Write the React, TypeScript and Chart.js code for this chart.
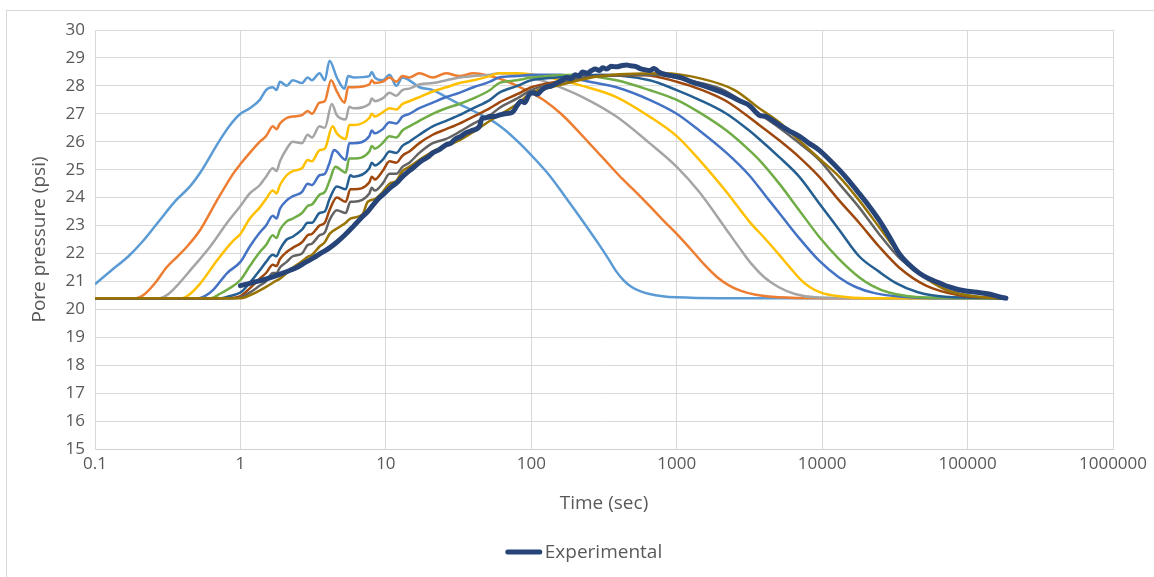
import React, { useEffect, useRef } from "react";
import { Chart, registerables } from "chart.js";

Chart.register(...registerables);

// Axis ticks
const timeTicks = [0.1, 1, 10, 100, 1000, 10000, 100000, 1000000];
const pressureMin = 15;
const pressureMax = 30;

// Simulated curves: time (sec) and pore pressure (psi)
const simTime1 = [0.1, 0.13, 0.17, 0.21, 0.27, 0.36, 0.45, 0.53, 0.72, 0.85, 1, 1.16, 1.36, 1.5, 1.67, 1.77, 1.87, 2.08, 2.29, 2.65, 2.9, 3.1, 3.5, 3.8, 4.1, 4.6, 5.2, 5.5, 6, 7.7, 8, 8.4, 9.5, 10.6, 11.8, 13, 14.5, 17, 21, 26, 32, 40, 52, 65, 83, 105, 133, 170, 223, 294, 340, 385, 430, 490, 560, 650, 800, 1000, 2000, 10000, 180000];
const simPres1 = [20.9, 21.4, 21.9, 22.4, 23.1, 23.9, 24.4, 24.9, 26.05, 26.6, 27.0, 27.2, 27.5, 27.85, 27.95, 27.85, 28.15, 28.0, 28.2, 28.1, 28.3, 28.2, 28.45, 28.2, 28.9, 28.3, 27.9, 28.35, 28.3, 28.35, 28.5, 28.3, 28.2, 28.4, 28.0, 28.3, 28.2, 27.95, 27.85, 27.6, 27.35, 27.1, 26.8, 26.45, 25.95, 25.4, 24.8, 24.05, 23.2, 22.3, 21.8, 21.35, 21.05, 20.8, 20.65, 20.55, 20.47, 20.43, 20.4, 20.4, 20.4];

const simTime2 = [0.1, 0.19, 0.22, 0.26, 0.31, 0.37, 0.43, 0.53, 0.69, 0.89, 1, 1.16, 1.36, 1.5, 1.67, 1.77, 1.87, 2.08, 2.29, 2.65, 2.9, 3.1, 3.5, 3.8, 4.2, 4.6, 5.2, 5.5, 6, 7.7, 8, 8.4, 9.5, 10.6, 11.8, 13, 14.5, 17, 21, 26, 32, 40, 52, 65, 80, 100, 125, 160, 200, 250, 320, 400, 500, 650, 820, 1000, 1250, 1550, 1900, 2300, 2800, 3500, 5000, 10000, 180000];
const simPres2 = [20.4, 20.4, 20.55, 20.95, 21.5, 21.9, 22.25, 22.85, 23.9, 24.85, 25.2, 25.6, 26.0, 26.2, 26.55, 26.45, 26.65, 26.85, 26.9, 26.95, 27.1, 27.0, 27.4, 27.45, 28.2, 27.8, 27.4, 27.95, 27.95, 28.05, 28.2, 28.1, 28.15, 28.3, 28.15, 28.35, 28.3, 28.45, 28.3, 28.45, 28.35, 28.45, 28.35, 28.2, 28.0, 27.75, 27.45, 27.0, 26.5, 25.95, 25.35, 24.8, 24.3, 23.7, 23.15, 22.7, 22.15, 21.6, 21.15, 20.85, 20.65, 20.52, 20.43, 20.4, 20.4];

const simTime3 = [0.1, 0.28, 0.32, 0.36, 0.47, 0.62, 0.81, 1, 1.16, 1.36, 1.5, 1.67, 1.77, 1.87, 2.08, 2.29, 2.65, 2.9, 3.1, 3.5, 3.8, 4.25, 4.6, 5.3, 5.6, 6, 7.7, 8, 8.4, 9.5, 10.6, 11.8, 13, 14.5, 17, 21, 26, 32, 40, 52, 60, 80, 100, 133, 225, 385, 650, 1000, 1430, 2200, 2700, 3300, 4000, 5000, 6500, 9000, 20000, 180000];
const simPres3 = [20.4, 20.4, 20.55, 20.8, 21.5, 22.25, 23.1, 23.7, 24.15, 24.45, 24.75, 25.05, 24.95, 25.3, 25.75, 26.0, 25.95, 26.25, 26.15, 26.55, 26.5, 27.35, 26.95, 26.8, 27.25, 27.2, 27.35, 27.55, 27.45, 27.55, 27.75, 27.65, 27.85, 27.9, 28.05, 28.1, 28.2, 28.3, 28.35, 28.4, 28.45, 28.42, 28.3, 28.1, 27.6, 26.9, 25.95, 25.1, 24.2, 22.85, 22.2, 21.6, 21.15, 20.8, 20.55, 20.43, 20.4, 20.4];

const simTime4 = [0.1, 0.4, 0.45, 0.53, 0.69, 0.89, 1, 1.16, 1.36, 1.5, 1.67, 1.77, 1.87, 2.08, 2.29, 2.65, 2.9, 3.1, 3.5, 3.8, 4.3, 4.6, 5.3, 5.6, 6, 7.7, 8, 8.4, 9.5, 10.6, 11.8, 13, 14.5, 17, 21, 26, 32, 40, 52, 60, 80, 133, 225, 385, 650, 1000, 1430, 2200, 3150, 4100, 5070, 6000, 7000, 8200, 9800, 13000, 20000, 180000];
const simPres4 = [20.4, 20.4, 20.55, 20.93, 21.75, 22.45, 22.7, 23.25, 23.65, 23.95, 24.25, 24.15, 24.45, 24.8, 24.95, 25.05, 25.35, 25.3, 25.7, 25.75, 26.55, 26.3, 26.1, 26.6, 26.6, 26.85, 27.0, 26.9, 27.05, 27.2, 27.15, 27.35, 27.45, 27.6, 27.8, 27.95, 28.1, 28.2, 28.35, 28.45, 28.45, 28.3, 28.0, 27.6, 26.9, 26.2, 25.35, 24.2, 23.15, 22.5, 21.95, 21.5, 21.1, 20.8, 20.6, 20.47, 20.4, 20.4];

const simTime5 = [0.1, 0.52, 0.58, 0.65, 0.81, 1, 1.16, 1.36, 1.5, 1.67, 1.77, 1.87, 2.08, 2.29, 2.65, 2.9, 3.1, 3.5, 3.8, 4.1, 4.4, 5.3, 5.6, 6, 7.7, 8, 8.4, 9.5, 10.6, 11.8, 13, 14.5, 17, 21, 26, 32, 40, 52, 60, 80, 100, 160, 225, 385, 650, 1000, 1430, 2200, 3150, 4100, 5070, 6950, 9500, 13000, 17000, 23000, 35000, 60000, 180000];
const simPres5 = [20.4, 20.4, 20.5, 20.7, 21.3, 21.7, 22.25, 22.75, 23.0, 23.35, 23.25, 23.6, 23.9, 24.05, 24.2, 24.5, 24.45, 24.8, 24.85, 25.25, 25.7, 25.35, 25.95, 25.95, 26.2, 26.4, 26.3, 26.45, 26.7, 26.65, 26.9, 27.0, 27.2, 27.4, 27.6, 27.75, 27.95, 28.15, 28.3, 28.35, 28.4, 28.4, 28.2, 27.95, 27.5, 27.0, 26.4, 25.6, 24.8, 24.05, 23.45, 22.55, 21.75, 21.15, 20.8, 20.58, 20.45, 20.4, 20.4];

const simTime6 = [0.1, 0.63, 0.72, 0.81, 1, 1.16, 1.36, 1.5, 1.67, 1.77, 1.87, 2.08, 2.29, 2.65, 2.9, 3.1, 3.5, 3.8, 4.1, 4.5, 5.3, 5.6, 6, 7.7, 8, 8.4, 9.5, 10.6, 11.8, 13, 14.5, 17, 21, 26, 32, 40, 52, 60, 80, 100, 200, 385, 650, 1000, 1430, 2200, 3150, 3690, 5070, 6950, 9530, 13080, 17950, 22000, 28800, 51800, 180000];
const simPres6 = [20.4, 20.4, 20.55, 20.7, 21.05, 21.55, 22.05, 22.3, 22.65, 22.55, 22.85, 23.15, 23.25, 23.45, 23.7, 23.75, 24.1, 24.2, 24.6, 25.1, 24.9, 25.4, 25.4, 25.65, 25.85, 25.75, 25.95, 26.2, 26.15, 26.4, 26.55, 26.75, 27.0, 27.2, 27.35, 27.55, 27.85, 28.1, 28.2, 28.3, 28.4, 28.2, 27.85, 27.5, 27.05, 26.4, 25.7, 25.35, 24.5, 23.55, 22.6, 21.8, 21.15, 20.85, 20.6, 20.42, 20.4];

const simTime7 = [0.1, 0.74, 0.85, 1, 1.16, 1.36, 1.5, 1.67, 1.77, 1.87, 2.08, 2.29, 2.65, 2.9, 3.1, 3.5, 3.8, 4.1, 4.6, 5.3, 5.7, 6, 7.7, 8, 8.4, 9.5, 10.6, 11.8, 13, 14.5, 17, 21, 26, 32, 40, 52, 60, 80, 100, 150, 300, 650, 1000, 1430, 2200, 3150, 3690, 5070, 6950, 9530, 13080, 17950, 24600, 32000, 45000, 70000, 180000];
const simPres7 = [20.4, 20.4, 20.48, 20.6, 20.95, 21.4, 21.7, 21.95, 21.9, 22.15, 22.5, 22.6, 22.85, 23.1, 23.1, 23.45, 23.5, 23.95, 24.4, 24.3, 24.8, 24.75, 25.05, 25.25, 25.15, 25.35, 25.65, 25.6, 25.85, 26.0, 26.25, 26.55, 26.75, 26.95, 27.2, 27.5, 27.75, 28.0, 28.2, 28.3, 28.4, 28.2, 27.85, 27.5, 27.0, 26.4, 26.1, 25.45, 24.75, 23.8, 22.85, 21.9, 21.35, 20.95, 20.62, 20.45, 20.4];

const simTime8 = [0.1, 0.84, 1, 1.16, 1.36, 1.5, 1.67, 1.77, 1.87, 2.08, 2.29, 2.65, 2.9, 3.1, 3.5, 3.8, 4.1, 4.6, 5.3, 5.7, 6, 7.7, 8, 8.4, 9.5, 10.6, 11.8, 13, 14.5, 17, 21, 26, 32, 40, 52, 60, 80, 100, 150, 300, 600, 1000, 1500, 2200, 3690, 5070, 6950, 9530, 13080, 17950, 24600, 33800, 51800, 87300, 120000, 180000];
const simPres8 = [20.4, 20.4, 20.47, 20.75, 21.1, 21.3, 21.6, 21.55, 21.8, 22.05, 22.2, 22.4, 22.65, 22.7, 23.0, 23.1, 23.55, 24.0, 23.85, 24.3, 24.3, 24.55, 24.75, 24.65, 24.95, 25.3, 25.25, 25.5, 25.65, 25.95, 26.25, 26.45, 26.65, 26.9, 27.2, 27.4, 27.7, 27.95, 28.15, 28.35, 28.38, 28.15, 27.85, 27.45, 26.6, 26.05, 25.45, 24.75, 23.9, 23.1, 22.25, 21.5, 20.85, 20.5, 20.43, 20.4];

const simTime9 = [0.1, 0.9, 1, 1.16, 1.36, 1.5, 1.67, 1.77, 1.87, 2.08, 2.29, 2.65, 2.9, 3.1, 3.5, 3.8, 4.1, 4.6, 5.3, 5.7, 6, 7.7, 8, 8.4, 9.5, 10.6, 11.8, 13, 14.5, 17, 21, 26, 32, 40, 52, 60, 80, 100, 150, 300, 700, 1200, 2000, 3000, 3690, 5070, 6950, 9530, 13080, 17950, 24600, 33800, 46400, 71100, 114300, 180000];
const simPres9 = [20.4, 20.4, 20.43, 20.6, 20.85, 21.0, 21.3, 21.3, 21.5, 21.7, 21.9, 22.0, 22.3, 22.35, 22.65, 22.75, 23.2, 23.55, 23.45, 23.85, 23.85, 24.15, 24.35, 24.25, 24.5, 24.85, 24.85, 25.1, 25.25, 25.6, 25.95, 26.1, 26.35, 26.65, 26.95, 27.2, 27.55, 27.85, 28.1, 28.35, 28.4, 28.2, 27.9, 27.35, 27.0, 26.5, 25.95, 25.35, 24.5, 23.65, 22.7, 21.85, 21.3, 20.7, 20.45, 20.4];

const simTime10 = [0.1, 1.0, 1.1, 1.22, 1.36, 1.52, 1.7, 1.87, 2.08, 2.3, 2.65, 2.9, 3.1, 3.5, 3.8, 4.1, 4.8, 5.3, 5.7, 6.9, 7.5, 8.4, 9.5, 10.6, 11.8, 13, 14.5, 17, 21, 26, 32, 40, 52, 60, 80, 100, 150, 300, 800, 1500, 2500, 3690, 5070, 6950, 9530, 13080, 17950, 24600, 33800, 46400, 71100, 133700, 180000];
const simPres10 = [20.4, 20.4, 20.45, 20.55, 20.68, 20.82, 20.98, 21.1, 21.3, 21.5, 21.72, 21.88, 21.95, 22.25, 22.4, 22.7, 22.95, 23.1, 23.25, 23.4, 23.85, 23.95, 24.2, 24.5, 24.6, 24.95, 25.1, 25.35, 25.65, 25.85, 26.05, 26.35, 26.75, 26.95, 27.35, 27.75, 28.0, 28.35, 28.45, 28.25, 27.85, 27.2, 26.7, 26.05, 25.4, 24.75, 23.9, 22.95, 22.0, 21.3, 20.7, 20.42, 20.4];

// Measured pore pressure
const expTime = [1.0, 1.1, 1.25, 1.43, 1.65, 1.9, 2.2, 2.44, 2.8, 3.2, 3.6, 4.1, 4.6, 5.2, 5.8, 6.3, 7.0, 7.5, 8.2, 9.06, 10, 11, 12, 13, 14, 15.3, 16.5, 18, 19.5, 21, 23, 26.2, 28, 30, 33, 35, 39, 44, 46, 48, 51.6, 56, 60, 66, 74, 80, 85, 90, 97, 104, 110, 118, 127, 138, 150, 162, 175, 188, 200, 212, 225, 242, 260, 275, 294, 310, 330, 355, 385, 415, 451, 480, 520, 560, 600, 650, 700, 750, 848, 950, 1091, 1250, 1429, 1650, 1871, 2100, 2410, 2750, 3155, 3690, 4120, 4600, 5070, 5900, 6950, 8100, 9530, 11000, 13080, 15300, 17950, 21000, 24600, 29000, 33800, 39600, 46400, 54000, 63600, 75000, 87300, 100000, 119700, 140000, 164300, 183500];
const expPres = [20.85, 20.9, 20.98, 21.05, 21.15, 21.27, 21.4, 21.5, 21.68, 21.85, 22.02, 22.2, 22.4, 22.65, 22.9, 23.1, 23.35, 23.5, 23.75, 24.0, 24.2, 24.4, 24.55, 24.75, 24.9, 25.05, 25.2, 25.35, 25.45, 25.6, 25.7, 25.9, 25.95, 26.1, 26.2, 26.3, 26.4, 26.55, 26.85, 26.85, 26.9, 26.9, 26.95, 27.0, 27.05, 27.3, 27.45, 27.4, 27.7, 27.75, 27.7, 27.85, 27.95, 28.0, 28.1, 28.2, 28.3, 28.25, 28.4, 28.35, 28.5, 28.45, 28.55, 28.6, 28.55, 28.65, 28.6, 28.7, 28.68, 28.72, 28.75, 28.72, 28.7, 28.62, 28.58, 28.55, 28.62, 28.5, 28.4, 28.35, 28.28, 28.15, 28.05, 27.95, 27.85, 27.75, 27.6, 27.45, 27.3, 26.95, 26.9, 26.75, 26.6, 26.4, 26.2, 25.95, 25.7, 25.4, 25.0, 24.6, 24.15, 23.7, 23.2, 22.6, 22.0, 21.6, 21.3, 21.1, 20.95, 20.8, 20.7, 20.65, 20.6, 20.55, 20.45, 20.4];

const simTimes = [simTime1, simTime2, simTime3, simTime4, simTime5, simTime6, simTime7, simTime8, simTime9, simTime10];
const simPressures = [simPres1, simPres2, simPres3, simPres4, simPres5, simPres6, simPres7, simPres8, simPres9, simPres10];
const simColors = ["#5B9BD5", "#ED7D31", "#A5A5A5", "#FFC000", "#4472C4", "#70AD47", "#255E91", "#9E480E", "#636363", "#997300"];
const expLabel = "Experimental";
const expColor = "#264478";

const FONT = "'Open Sans', 'Noto Sans', sans-serif";
const TEXT = "#595959";

// Legend drawn under the axis title: only labelled series get an entry
const bottomLegend = {
  id: "bottomLegend",
  afterDraw(chart: any) {
    const { ctx } = chart;
    const items = chart.data.datasets.filter((d: any) => d.label);
    ctx.save();
    ctx.font = `19px ${FONT}`;
    const lineLen = 36;
    const gap = 3;
    const y = 552;
    const widths = items.map((d: any) => lineLen + gap + ctx.measureText(d.label).width);
    const total = widths.reduce((a: number, b: number) => a + b, 0);
    let x = 584 - total / 2;
    items.forEach((d: any, i: number) => {
      ctx.strokeStyle = d.borderColor;
      ctx.lineWidth = d.borderWidth;
      ctx.lineCap = "round";
      ctx.beginPath();
      ctx.moveTo(x + 2, y);
      ctx.lineTo(x + lineLen - 2, y);
      ctx.stroke();
      ctx.fillStyle = TEXT;
      ctx.textBaseline = "middle";
      ctx.textAlign = "left";
      ctx.fillText(d.label, x + lineLen + gap, y + 1);
      x += widths[i];
    });
    ctx.restore();
  },
};

export default function App() {
  const canvasRef = useRef<HTMLCanvasElement>(null);

  useEffect(() => {
    if (!canvasRef.current) return;
    const toPoints = (ts: number[], vs: number[]) => ts.map((t, i) => ({ x: t, y: vs[i] }));

    const simSets = simTimes.map((ts, i) => ({
      label: "",
      data: toPoints(ts, simPressures[i]),
      borderColor: simColors[i],
      backgroundColor: simColors[i],
      borderWidth: 2.5,
      pointRadius: 0,
      cubicInterpolationMode: "monotone" as const,
      order: simTimes.length - i,
    }));

    const expSet = {
      label: expLabel,
      data: toPoints(expTime, expPres),
      borderColor: expColor,
      backgroundColor: expColor,
      borderWidth: 5,
      pointRadius: 0,
      borderCapStyle: "round" as const,
      borderJoinStyle: "round" as const,
      cubicInterpolationMode: "monotone" as const,
      order: 0,
    };

    const chart = new Chart(canvasRef.current, {
      type: "line",
      data: { datasets: [...simSets, expSet] },
      options: {
        responsive: false,
        animation: false,
        layout: { padding: { left: 0, top: 30, right: 41, bottom: 58 } },
        plugins: {
          legend: { display: false },
          tooltip: { enabled: false },
        },
        scales: {
          x: {
            type: "logarithmic",
            min: 0.1,
            max: 1000000,
            afterBuildTicks: (scale: any) => {
              scale.ticks = timeTicks.map((v) => ({ value: v }));
            },
            afterFit: (scale: any) => {
              scale.height = 70;
            },
            grid: { color: "#d9d9d9", lineWidth: 1, drawTicks: false },
            border: { color: "#d0d0d0", width: 1 },
            ticks: {
              padding: 5,
              color: TEXT,
              autoSkip: false,
              maxRotation: 0,
              font: { family: FONT, size: 17 },
              callback: (v: any) => String(v),
            },
            title: {
              display: true,
              text: "Time (sec)",
              color: TEXT,
              font: { family: FONT, size: 19 },
              padding: { top: 0, bottom: 4 },
            },
          },
          y: {
            type: "linear",
            min: pressureMin,
            max: pressureMax,
            afterFit: (scale: any) => {
              scale.width = 95;
            },
            grid: { color: "#d9d9d9", lineWidth: 1, drawTicks: false },
            border: { color: "#d9d9d9", width: 1 },
            ticks: {
              stepSize: 1,
              padding: 10,
              color: TEXT,
              font: { family: FONT, size: 17 },
            },
            title: {
              display: true,
              text: "Pore pressure (psi)",
              color: TEXT,
              font: { family: FONT, size: 19 },
              padding: { top: 28, bottom: 0 },
            },
          },
        },
      },
      plugins: [bottomLegend],
    });

    return () => chart.destroy();
  }, []);

  return (
    <div
      style={{
        position: "fixed",
        left: 0,
        top: 0,
        width: 1154,
        height: 577,
        background: "#ffffff",
        overflow: "hidden",
      }}
    >
      <div
        style={{
          position: "absolute",
          left: 6,
          top: 10,
          width: 1170,
          height: 600,
          border: "1px solid #d9d9d9",
          boxSizing: "border-box",
        }}
      />
      <canvas
        ref={canvasRef}
        width={1154}
        height={577}
        style={{ position: "absolute", left: 0, top: 0 }}
      />
    </div>
  );
}
